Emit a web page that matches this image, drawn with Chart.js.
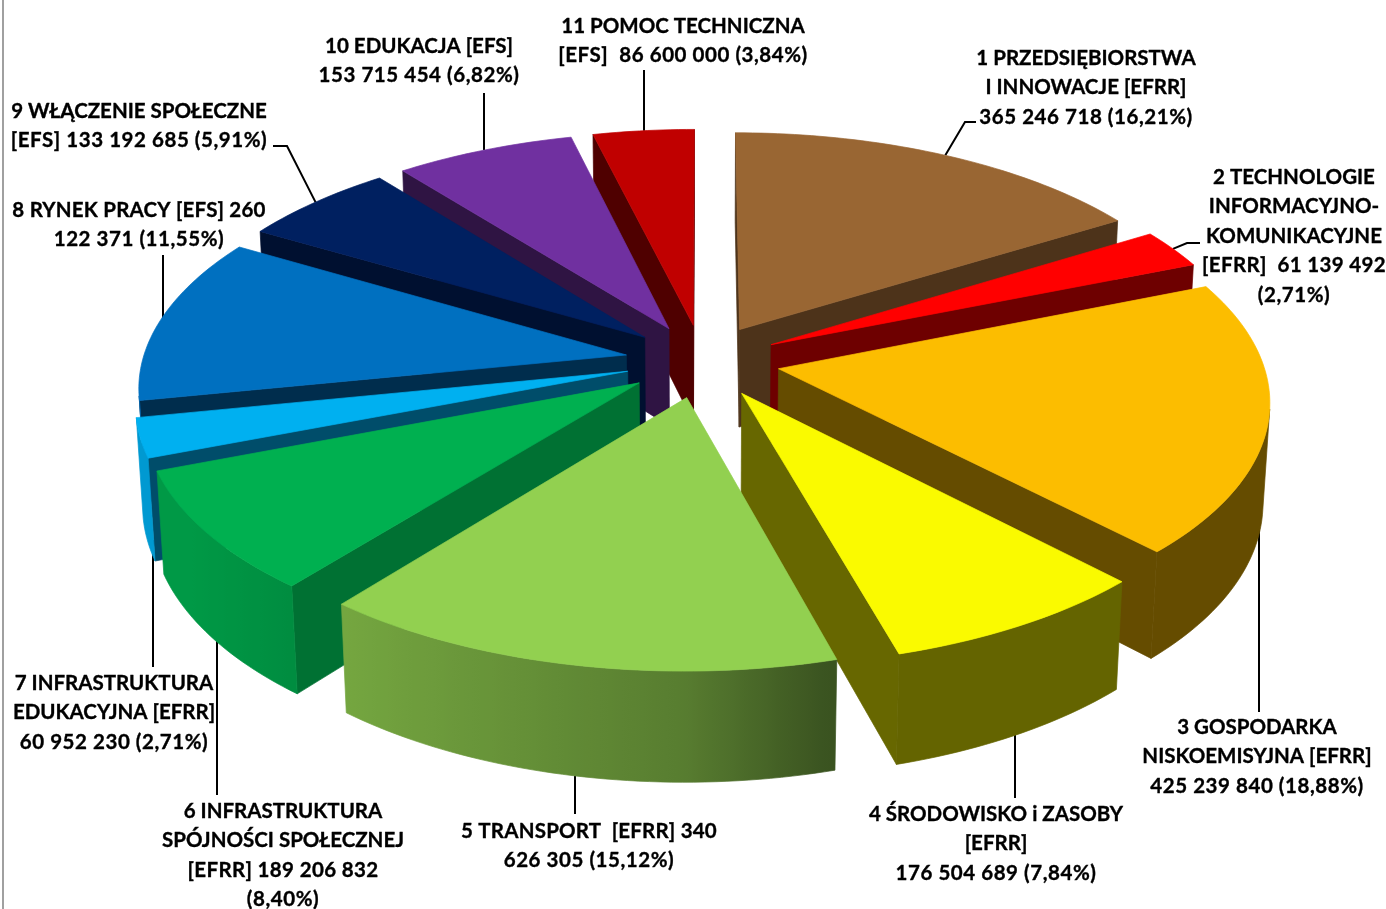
<!DOCTYPE html>
<html><head><meta charset="utf-8">
<script src="https://cdn.jsdelivr.net/npm/chart.js@4/dist/chart.umd.min.js"></script>
<style>html,body{margin:0;padding:0;background:#fff;overflow:hidden}#w{position:relative;width:1386px;height:909px}canvas{display:block}</style>
</head><body><div id="w"><canvas id="c" width="1386" height="909"></canvas></div>
<script>
const categories = ['1 PRZEDSIĘBIORSTWA I INNOWACJE [EFRR]','2 TECHNOLOGIE INFORMACYJNO-KOMUNIKACYJNE [EFRR]','3 GOSPODARKA NISKOEMISYJNA [EFRR]','4 ŚRODOWISKO i ZASOBY [EFRR]','5 TRANSPORT [EFRR]','6 INFRASTRUKTURA SPÓJNOŚCI SPOŁECZNEJ [EFRR]','7 INFRASTRUKTURA EDUKACYJNA [EFRR]','8 RYNEK PRACY [EFS]','9 WŁĄCZENIE SPOŁECZNE [EFS]','10 EDUKACJA [EFS]','11 POMOC TECHNICZNA [EFS]'];
const values = [365246718,61139492,425239840,176504689,340626305,189206832,60952230,260122371,133192685,153715454,86600000];
const labelLines = [
 ['1 PRZEDSIĘBIORSTWA','I INNOWACJE [EFRR]','365 246 718 (16,21%)'],
 ['2 TECHNOLOGIE','INFORMACYJNO-','KOMUNIKACYJNE','[EFRR]  61 139 492','(2,71%)'],
 ['3 GOSPODARKA','NISKOEMISYJNA [EFRR]','425 239 840 (18,88%)'],
 ['4 ŚRODOWISKO i ZASOBY','[EFRR]','176 504 689 (7,84%)'],
 ['5 TRANSPORT  [EFRR] 340','626 305 (15,12%)'],
 ['6 INFRASTRUKTURA','SPÓJNOŚCI SPOŁECZNEJ','[EFRR] 189 206 832','(8,40%)'],
 ['7 INFRASTRUKTURA','EDUKACYJNA [EFRR]','60 952 230 (2,71%)'],
 ['8 RYNEK PRACY [EFS] 260','122 371 (11,55%)'],
 ['9 WŁĄCZENIE SPOŁECZNE','[EFS] 133 192 685 (5,91%)'],
 ['10 EDUKACJA [EFS]','153 715 454 (6,82%)'],
 ['11 POMOC TECHNICZNA','[EFS]  86 600 000 (3,84%)']
];
const sliceColors = ['#996633','#FF0000','#FCBD00','#FAFA00','#92D050','#00B050','#00B0F0','#0070C0','#002060','#7030A0','#C00000'];
const cutShade = [0.5,0.43,0.4,0.41,0.5,0.64,0.44,0.4,0.5,0.42,0.41];
// label block: centre x, first baseline y
const labelPos = [[1086,65],[1294,184],[1257,734],[996,821],[589,838],[283,818],[114,690],[139,217],[139,118],[419,53],[683,33]];
// leader: level 0 top rim, 1 bottom rim; either straight up/down at x to y, or through points
const leaders = [
 {lvl:0,pts:[[965,122],[976,122]]},
 {lvl:0,pts:[[1187,243],[1200,243]]},
 {lvl:1,x:1259,toY:712},
 {lvl:1,x:1015,toY:798},
 {lvl:1,x:575,toY:814},
 {lvl:1,x:217,toY:795},
 {lvl:1,x:153,toY:667},
 {lvl:0,x:163,toY:255},
 {lvl:0,pts:[[287,146],[273,146]]},
 {lvl:0,x:484,toY:93},
 {lvl:0,x:644,toY:70}
];
const view = {cx:702.5, cy:361, a:484, b:229, p:0.126, h:100, q:0.012, expl:0.16};

function project(u,v,z){
  const w = 1 - view.p*v + view.q*z;
  return [view.cx + view.a*u/w, view.cy + (view.b*v + view.h*z)/w];
}
function shade(hex,f){
  const n=parseInt(hex.slice(1),16);
  return `rgb(${Math.round((n>>16&255)*f)},${Math.round((n>>8&255)*f)},${Math.round((n&255)*f)})`;
}
function polygon(ctx,pts,fill){
  ctx.beginPath();
  pts.forEach((p,i)=>i?ctx.lineTo(p[0],p[1]):ctx.moveTo(p[0],p[1]));
  ctx.closePath();
  ctx.fillStyle=fill;ctx.strokeStyle=fill;ctx.lineWidth=0.7;
  ctx.fill();ctx.stroke();
}
function area(q){let s=0;q.forEach((p,i)=>{const r=q[(i+1)%q.length];s+=p[0]*r[1]-r[0]*p[1];});return s;}
const wallShade=nx=>nx<0?Math.min(0.87,0.6-0.32*nx):Math.max(0.4,0.6-0.8*nx);

// Geometry comes from the arc elements the pie controller laid out
function sliceGeom(el){
  const {startAngle,endAngle}=el;
  const mid=(startAngle+endAngle)/2;
  const ox=Math.cos(mid)*view.expl, oy=Math.sin(mid)*view.expl;
  const pts=[[ox,oy]];
  const n=Math.max(6,Math.ceil((endAngle-startAngle)/0.02));
  for(let i=0;i<=n;i++){const t=startAngle+(endAngle-startAngle)*i/n;pts.push([ox+Math.cos(t),oy+Math.sin(t),t]);}
  return {pts,mid,ox,oy};
}
const pie3d={id:'pie3d',
  beforeDatasetsDraw(chart){
    const ctx=chart.ctx, arcs=chart.getDatasetMeta(0).data;
    // leaders first, so that slices cover their inner ends
    ctx.strokeStyle='#000';ctx.lineWidth=2;
    arcs.forEach((el,i)=>{
      const g=sliceGeom(el), L=leaders[i];
      const s=project(g.ox+Math.cos(g.mid),g.oy+Math.sin(g.mid),L.lvl);
      ctx.beginPath();
      if(L.pts){ctx.moveTo(s[0],s[1]);L.pts.forEach(p=>ctx.lineTo(p[0],p[1]));}
      else{ctx.moveTo(L.x,s[1]);ctx.lineTo(L.x,L.toY);}
      ctx.stroke();
    });
    const order=arcs.map((el,i)=>({el,i,m:(el.startAngle+el.endAngle)/2})).sort((a,b)=>Math.sin(a.m)-Math.sin(b.m));
    order.forEach(({el,i})=>{
      const g=sliceGeom(el), col=sliceColors[i], P=g.pts, N=P.length;
      const rim=[];
      for(let k=0;k<N;k++){
        const a=P[k], b=P[(k+1)%N];
        const q=[project(a[0],a[1],0),project(b[0],b[1],0),project(b[0],b[1],1),project(a[0],a[1],1)];
        if(area(q)>=0) continue;
        if(k===0||k===N-1) polygon(ctx,q,shade(col,cutShade[i]));
        else rim.push({q,nx:Math.cos((a[2]+b[2])/2)});
      }
      if(rim.length){
        const top=rim.map(r=>r.q[0]).concat([rim[rim.length-1].q[1]]);
        const bot=rim.map(r=>r.q[3]).concat([rim[rim.length-1].q[2]]).reverse();
        const x0=top[0][0], x1=top[top.length-1][0];
        let fill=shade(col,wallShade(rim[0].nx));
        if(Math.abs(x1-x0)>1){
          fill=ctx.createLinearGradient(x0,0,x1,0);
          rim.forEach(r=>{
            const t=((r.q[0][0]+r.q[1][0])/2-x0)/(x1-x0);
            fill.addColorStop(Math.min(1,Math.max(0,t)),shade(col,wallShade(r.nx)));
          });
        }
        polygon(ctx,top.concat(bot),fill);
      }
      polygon(ctx,P.map(p=>project(p[0],p[1],0)),col);
    });
    ctx.fillStyle='#000';ctx.strokeStyle='#000';ctx.lineWidth=0.35;ctx.lineJoin='round';
    ctx.font='bold 20.5px Lato';ctx.textAlign='center';ctx.textBaseline='alphabetic';
    labelLines.forEach((ls,i)=>{
      ls.forEach((t,j)=>{
        const x=labelPos[i][0], y=labelPos[i][1]+j*29.4;
        ctx.letterSpacing=t.includes('(')?'0.55px':(/\d{3}\s\d{3}/.test(t)?'0.35px':(/\d{3}$/.test(t)?'0.2px':'0px'));
        ctx.fillText(t,x,y);ctx.strokeText(t,x,y);
      });
    });
    ctx.letterSpacing='0px';
    // left frame line
    ctx.fillStyle='#A0A0A0';ctx.fillRect(2,0,2,chart.height);
    return false;
  }
};
new Chart(document.getElementById('c'),{
  type:'pie',
  data:{labels:categories,datasets:[{data:values,backgroundColor:sliceColors,borderWidth:0}]},
  options:{responsive:false,animation:false,plugins:{legend:{display:false},tooltip:{enabled:false}}},
  plugins:[pie3d]
});
</script></body></html>
